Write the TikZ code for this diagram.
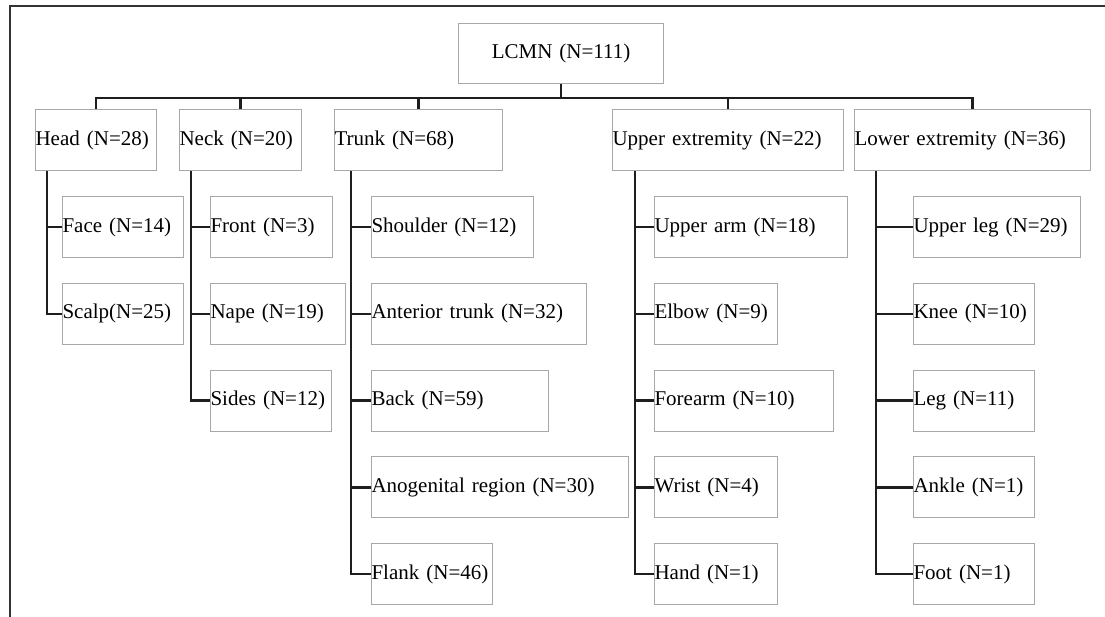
\documentclass[tikz,border=0pt]{standalone}
\usepackage{fontspec}
\setmainfont{Liberation Serif}
\usetikzlibrary{positioning}
\definecolor{boxgray}{HTML}{A8A8A8}
\definecolor{linkblack}{HTML}{1E1E1E}
\def\myvdist{24.65pt}
\tikzset{
my node/.style={font=\fontsize{21}{25}\selectfont,inner xsep=0pt,inner ysep=0pt,minimum height=61pt},
my box/.style={draw=boxgray,line width=1.1pt,my node,text width=#1,align=left,anchor=north west},
link/.style={draw=linkblack,line width=2.6pt}, % tree connectors
frame/.style={draw=black!80,line width=2.8pt}
}
\begin{document}
\begin{tikzpicture}[x=1pt,y=-1pt]
\useasboundingbox (0,0) rectangle (1105,616);
\draw[frame] (10,640) -- (10,6) -- (1130,6);
% root and first level
\node[my box=205pt,align=center,minimum height=60pt] (lcmn) at (458,23) {LCMN (N=111)};
\node[my box=121pt] (head)  at (35,109)  {Head (N=28)};
\node[my box=122pt] (neck)  at (179,109) {Neck (N=20)};
\node[my box=168pt] (trunk) at (334,109) {Trunk (N=68)};
\node[my box=231pt] (upper) at (612,109) {Upper extremity (N=22)};
\node[my box=236pt] (lower) at (854,109) {Lower extremity (N=36)};
% head
\node[my box=121pt] (face) at (62,196) {Face (N=14)};
\node[below=\myvdist of face.south west,my box=121pt] (scalp) {Scalp(N=25)};
% neck
\node[my box=122pt] (front) at (210,196) {Front (N=3)};
\node[below=\myvdist of front.south west,my box=135pt] (nape)  {Nape (N=19)};
\node[below=\myvdist of nape.south west,my box=121pt]  (sides) {Sides (N=12)};
% trunk
\node[my box=162pt] (shoulder) at (371,196) {Shoulder (N=12)};
\node[below=\myvdist of shoulder.south west,my box=215pt] (anterior) {Anterior trunk (N=32)};
\node[below=\myvdist of anterior.south west,my box=177pt] (back)     {Back (N=59)};
\node[below=\myvdist of back.south west,my box=257pt]     (anogen)   {Anogenital region (N=30)};
\node[below=\myvdist of anogen.south west,my box=121pt]   (flank)    {Flank (N=46)};
% upper extremity
\node[my box=193pt] (upperarm) at (654,196) {Upper arm (N=18)};
\node[below=\myvdist of upperarm.south west,my box=123pt] (elbow)   {Elbow (N=9)};
\node[below=\myvdist of elbow.south west,my box=179pt]    (forearm) {Forearm (N=10)};
\node[below=\myvdist of forearm.south west,my box=123pt]  (wrist)   {Wrist (N=4)};
\node[below=\myvdist of wrist.south west,my box=123pt]    (hand)    {Hand (N=1)};
% lower extremity
\node[my box=167pt] (upperleg) at (913,196) {Upper leg (N=29)};
\node[below=\myvdist of upperleg.south west,my box=121pt] (knee)  {Knee (N=10)};
\node[below=\myvdist of knee.south west,my box=121pt]     (leg)   {Leg (N=11)};
\node[below=\myvdist of leg.south west,my box=121pt]      (ankle) {Ankle (N=1)};
\node[below=\myvdist of ankle.south west,my box=121pt]    (foot)  {Foot (N=1)};
% connectors
\draw[link] (lcmn.south) -- ++(0,14) coordinate (bus);
\draw[link] (head.north) -- (head.north |- bus) -- (lower.north |- bus) -- (lower.north);
\foreach \n in {neck,trunk,upper}
  \draw[link] (\n.north) -- (\n.north |- bus);
\foreach \k in {face,scalp}
  \draw[link] ([xshift=12pt]head.south west) |- (\k.west);
\foreach \k in {front,nape,sides}
  \draw[link] ([xshift=12pt]neck.south west) |- (\k.west);
\foreach \k in {shoulder,anterior,back,anogen,flank}
  \draw[link] ([xshift=17pt]trunk.south west) |- (\k.west);
\foreach \k in {upperarm,elbow,forearm,wrist,hand}
  \draw[link] ([xshift=23pt]upper.south west) |- (\k.west);
\foreach \k in {upperleg,knee,leg,ankle,foot}
  \draw[link] ([xshift=22pt]lower.south west) |- (\k.west);
\end{tikzpicture}
\end{document}
